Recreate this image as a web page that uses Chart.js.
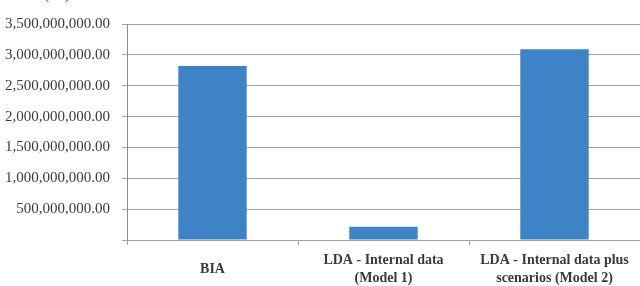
<!DOCTYPE html>
<html>
<head>
<meta charset="utf-8">
<script src="https://cdn.jsdelivr.net/npm/chart.js@4/dist/chart.umd.min.js"></script>
<style>
    html, body { margin: 0; padding: 0; background: #fff; overflow: hidden; }
    #wrap { position: relative; width: 640px; height: 286px; }
</style>
</head>
<body>
<div id="wrap"><canvas id="chart" width="640" height="286"></canvas></div>
<script>
// Chart data
const categories = ['BIA', ['LDA - Internal data', '(Model 1)'], ['LDA - Internal data plus', 'scenarios (Model 2)']];
const lossValues = [2820000000, 213000000, 3090000000];
const yTicks = [0, 500000000, 1000000000, 1500000000, 2000000000, 2500000000, 3000000000, 3500000000];
const unitLabel = '(Rs)';

const gridColor = '#a3a3a3';
const textColor = '#3a3a3a';
const serif = '"Liberation Serif", serif';

// Format like 3,500,000,000.00 and leave the zero tick blank
function formatTick(value) {
    if (value === 0) return '';
    return value.toLocaleString('en-US', { minimumFractionDigits: 2, maximumFractionDigits: 2 });
}

// Unit label above the y axis (cut off by the top edge, as in the source)
const unitPlugin = {
    id: 'unitLabel',
    afterDraw(chart) {
        const ctx = chart.ctx;
        ctx.save();
        ctx.fillStyle = textColor;
        ctx.font = '15px ' + serif;
        ctx.textAlign = 'center';
        ctx.textBaseline = 'alphabetic';
        ctx.fillText(unitLabel, 57, -1);
        ctx.restore();
    }
};

new Chart(document.getElementById('chart'), {
    type: 'bar',
    data: {
        labels: categories,
        datasets: [{
            data: lossValues,
            backgroundColor: '#3d83c5',
            borderWidth: 0,
            categoryPercentage: 1,
            barPercentage: 0.4
        }]
    },
    options: {
        responsive: false,
        animation: false,
        layout: { padding: { top: 24, right: -1, bottom: 0, left: 0 } },
        plugins: {
            legend: { display: false },
            tooltip: { enabled: false }
        },
        scales: {
            x: {
                afterFit(scale) {
                    scale.height = 46;
                    scale.paddingLeft = 0;
                    scale.paddingRight = 0;
                },
                grid: {
                    drawOnChartArea: false,
                    drawTicks: true,
                    tickLength: 5,
                    color: gridColor
                },
                border: { display: false },
                ticks: {
                    color: textColor,
                    padding: 15,
                    maxRotation: 0,
                    autoSkip: false,
                    crossAlign: 'center',
                    font: { family: serif, size: 14, weight: 'bold', lineHeight: 1.33 }
                }
            },
            y: {
                min: 0,
                max: 3500000000,
                afterFit(scale) { scale.width = 127; },
                afterBuildTicks(scale) { scale.ticks = yTicks.map(v => ({ value: v })); },
                grid: {
                    color: gridColor,
                    tickLength: 5
                },
                border: { display: true, color: '#8c8c8c' },
                ticks: {
                    color: textColor,
                    padding: 12,
                    callback: formatTick,
                    font: { family: serif, size: 15 }
                }
            }
        }
    },
    plugins: [unitPlugin]
});
</script>
</body>
</html>
